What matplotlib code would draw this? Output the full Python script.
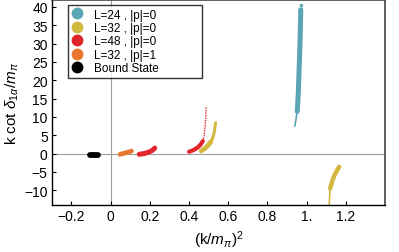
import matplotlib
matplotlib.use("Agg")
import matplotlib.pyplot as plt
from matplotlib.lines import Line2D

plt.rcParams["font.family"] = ["Liberation Sans", "DejaVu Sans"]
plt.rcParams["mathtext.fontset"] = "custom"
plt.rcParams["mathtext.rm"] = "Liberation Sans"
plt.rcParams["mathtext.it"] = "Liberation Sans:italic"

# colours of the ensembles
c_l24 = "#5aa6b4"
c_l32 = "#d3b83f"
c_l48 = "#e0262b"
c_l32p1 = "#e8782f"
c_bound = "#000000"

# points read along each band: (k/m_pi)^2 and k cot delta / m_pi
# L=24, |p|=0
l24_thick_x = [0.952, 0.957, 0.961, 0.965, 0.968, 0.970]
l24_thick_y = [11.5, 16.0, 22.0, 28.0, 34.0, 39.2]
l24_tail_x = [0.940, 0.952]
l24_tail_y = [7.5, 11.5]
l24_dot_x = [0.970]
l24_dot_y = [40.6]

# L=32, |p|=0 (two levels)
l32a_x = [0.462, 0.480, 0.497, 0.512, 0.523, 0.530, 0.535]
l32a_y = [0.7, 1.4, 2.2, 3.3, 4.6, 6.3, 8.4]
l32b_thick_x = [1.120, 1.130, 1.142, 1.155, 1.166]
l32b_thick_y = [-9.5, -7.6, -5.9, -4.6, -3.6]
l32b_tail_x = [1.114, 1.117, 1.120]
l32b_tail_y = [-15.0, -12.0, -9.5]

# L=48, |p|=0 (two levels)
l48a_x = [0.146, 0.170, 0.195, 0.213, 0.225]
l48a_y = [-0.2, 0.0, 0.4, 0.9, 1.5]
l48b_thick_x = [0.400, 0.420, 0.440, 0.458, 0.470]
l48b_thick_y = [0.5, 0.9, 1.5, 2.4, 3.4]
l48b_tail_x = [0.470, 0.477, 0.482, 0.485, 0.487]
l48b_tail_y = [3.4, 5.0, 7.5, 10.0, 12.6]

# L=32, |p|=1
l32p1_x = [0.048, 0.070, 0.090, 0.106]
l32p1_y = [-0.2, 0.1, 0.4, 0.7]

# bound state
bound_x = [-0.104, -0.085, -0.066]
bound_y = [-0.3, -0.3, -0.3]

xticks = [-0.2, 0.0, 0.2, 0.4, 0.6, 0.8, 1.0, 1.2]
xticklabels = ["\u22120.2", "0", "0.2", "0.4", "0.6", "0.8", "1.", "1.2"]
yticks = [-10, -5, 0, 5, 10, 15, 20, 25, 30, 35, 40]
yticklabels = [("\u2212" + str(-v)) if v < 0 else str(v) for v in yticks]

legend_labels = ["L=24 , |p|=0", "L=32 , |p|=0", "L=48 , |p|=0",
                 "L=32 , |p|=1", "Bound State"]
legend_colors = [c_l24, c_l32, c_l48, c_l32p1, c_bound]

fig = plt.figure(figsize=(3.99, 2.53), dpi=100)
ax = fig.add_axes([0.130, 0.186, 0.835, 0.812])

ax.axhline(0, color="#a0a0a0", lw=0.8, zorder=0)
ax.axvline(0, color="#a0a0a0", lw=0.8, zorder=0)

kw = dict(solid_capstyle="round", solid_joinstyle="round")
ax.plot(l24_thick_x, l24_thick_y, color=c_l24, lw=3.6, **kw)
ax.plot(l24_tail_x, l24_tail_y, color=c_l24, lw=1.2, **kw)
ax.plot(l24_dot_x, l24_dot_y, "o", color=c_l24, ms=1.5)

ax.plot(l32a_x, l32a_y, color=c_l32, lw=2.2, **kw)
ax.plot(l32a_x[:4], l32a_y[:4], color=c_l32, lw=3.4, **kw)
ax.plot(l32b_thick_x, l32b_thick_y, color=c_l32, lw=3.2, **kw)
ax.plot(l32b_tail_x, l32b_tail_y, color=c_l32, lw=1.2, **kw)

ax.plot(l48a_x, l48a_y, color=c_l48, lw=3.6, **kw)
ax.plot(l48b_thick_x, l48b_thick_y, color=c_l48, lw=3.0, **kw)
ax.plot(l48b_tail_x, l48b_tail_y, color=c_l48, lw=1.0, ls=(0, (1, 0.8)))

ax.plot(l32p1_x, l32p1_y, color=c_l32p1, lw=3.4, **kw)
ax.plot(bound_x, bound_y, color=c_bound, lw=4.2, **kw)

ax.set_xlim(-0.3, 1.4)
ax.set_ylim(-14, 42)
ax.set_xticks(xticks, xticklabels)
ax.set_yticks(yticks, yticklabels)
ax.tick_params(direction="in", length=3, width=0.8, labelsize=10, pad=3)

for side in ["left", "bottom"]:
    ax.spines[side].set_color("black")
    ax.spines[side].set_linewidth(1.0)
for side in ["top", "right"]:
    ax.spines[side].set_color("#444444")
    ax.spines[side].set_linewidth(1.2)

ax.set_xlabel(r"(k/$m_\pi$)$^2$", fontsize=11, labelpad=4)
ax.set_ylabel(r"k cot $\delta_{1\alpha}/m_\pi$", fontsize=11, labelpad=2)

handles = [Line2D([], [], marker="o", ls="none", color=c, ms=7.5)
           for c in legend_colors]
leg = ax.legend(handles, legend_labels, loc="upper left",
                bbox_to_anchor=(0.048, 0.642, 0.402, 0.331), mode="expand",
                borderaxespad=0, fontsize=8.5, frameon=True, fancybox=False,
                handletextpad=0.9, labelspacing=0.12, borderpad=0.3,
                handlelength=1.0)
leg.get_frame().set_edgecolor("black")
leg.get_frame().set_linewidth(1.0)

fig.savefig("out.png", dpi=100)
